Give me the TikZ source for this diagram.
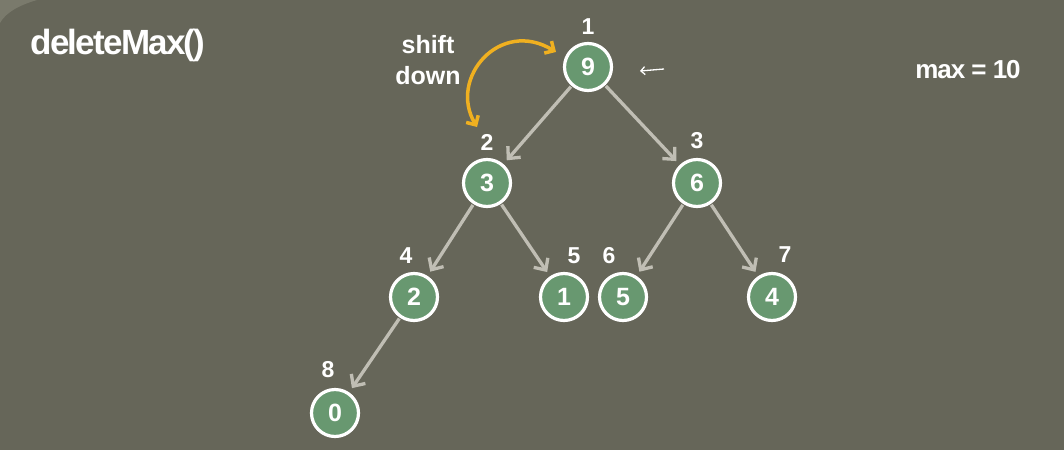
\documentclass[tikz,border=0pt]{standalone}
\usepackage{fontspec}
\setmainfont{Liberation Sans}
\usepackage{tikz}
\usetikzlibrary{arrows.meta}
\definecolor{slide}{RGB}{102,102,89}
\definecolor{slidelight}{RGB}{122,122,108}
\definecolor{heapgreen}{RGB}{104,152,112}
\definecolor{edgegray}{RGB}{192,190,180}
\definecolor{shiftorange}{RGB}{240,176,32}

\begin{document}
\begin{tikzpicture}[x=1pt,y=-1pt,
  heapnode/.style={circle,draw=white,line width=3.2pt,fill=heapgreen,
                   minimum size=47pt,inner sep=0pt,text=white,
                   font=\fontsize{25}{25}\selectfont\bfseries},
  idx/.style={text=white,inner sep=0pt,font=\fontsize{23}{23}\selectfont\bfseries},
  heapedge/.style={draw=edgegray,line width=3.3pt,
                   -{Straight Barb[length=9pt,width=17pt]},
                   shorten >=5pt,shorten <=1pt},
  slidetext/.style={text=white,inner sep=0pt,align=center}]
% background
\fill[slide] (0,0) rectangle (1064,450);
\fill[slidelight] (0,0) -- (37,0) .. controls (20,5) and (6,12) .. (0,23) -- cycle;
\useasboundingbox (0,0) rectangle (1064,450);

% texts
\node[slidetext,font=\fontsize{35}{35}\selectfont\bfseries\addfontfeature{LetterSpace=-5}]
      (title) at (118,45) {deleteMax()};
\node[slidetext,font=\fontsize{26}{26}\selectfont\bfseries\addfontfeature{LetterSpace=-4}]
      (maxval) at (968,70) {max = 10};
\node[slidetext,font=\fontsize{25}{31}\selectfont\bfseries] 
      (shift) at (428,60) {shift\\down};

% heap nodes (named by heap index)
\node[heapnode] (n1) at (588,67)  {9};
\node[heapnode] (n2) at (487,183) {3};
\node[heapnode] (n3) at (697,183) {6};
\node[heapnode] (n4) at (414,297) {2};
\node[heapnode] (n5) at (564,297) {1};
\node[heapnode] (n6) at (623,297) {5};
\node[heapnode] (n7) at (772,297) {4};
\node[heapnode] (n8) at (335,413) {0};

% index labels
\node[idx] (i1) at (588,27)  {1};
\node[idx] (i2) at (487,142) {2};
\node[idx] (i3) at (697,141) {3};
\node[idx] (i4) at (406,256) {4};
\node[idx] (i5) at (574,256) {5};
\node[idx] (i6) at (609,256) {6};
\node[idx] (i7) at (785,255) {7};
\node[idx] (i8) at (328,370) {8};

% edges
\draw[heapedge] (n1) -- (n2);
\draw[heapedge] (n1) -- (n3);
\draw[heapedge] (n2) -- (n4);
\draw[heapedge] (n2) -- (n5);
\draw[heapedge] (n3) -- (n6);
\draw[heapedge] (n3) -- (n7);
\draw[heapedge] (n4) -- (n8);

% shift down swap arrow
\coordinate (swapfrom) at (477,127);
\coordinate (swapto) at (556,52);
\draw[shiftorange,line width=3.5pt,
      {Straight Barb[length=7pt,width=14pt]}-{Straight Barb[length=7pt,width=14pt]}]
      (swapfrom) .. controls (448,78) and (500,18) .. (swapto);

% pointer at the root
\coordinate (ptrfrom) at (664,69);
\coordinate (ptrto) at (640,71);
\draw[white,line width=1.3pt,-{Straight Barb[length=4pt,width=8pt]}]
      (ptrfrom) -- (ptrto);
\end{tikzpicture}
\end{document}
